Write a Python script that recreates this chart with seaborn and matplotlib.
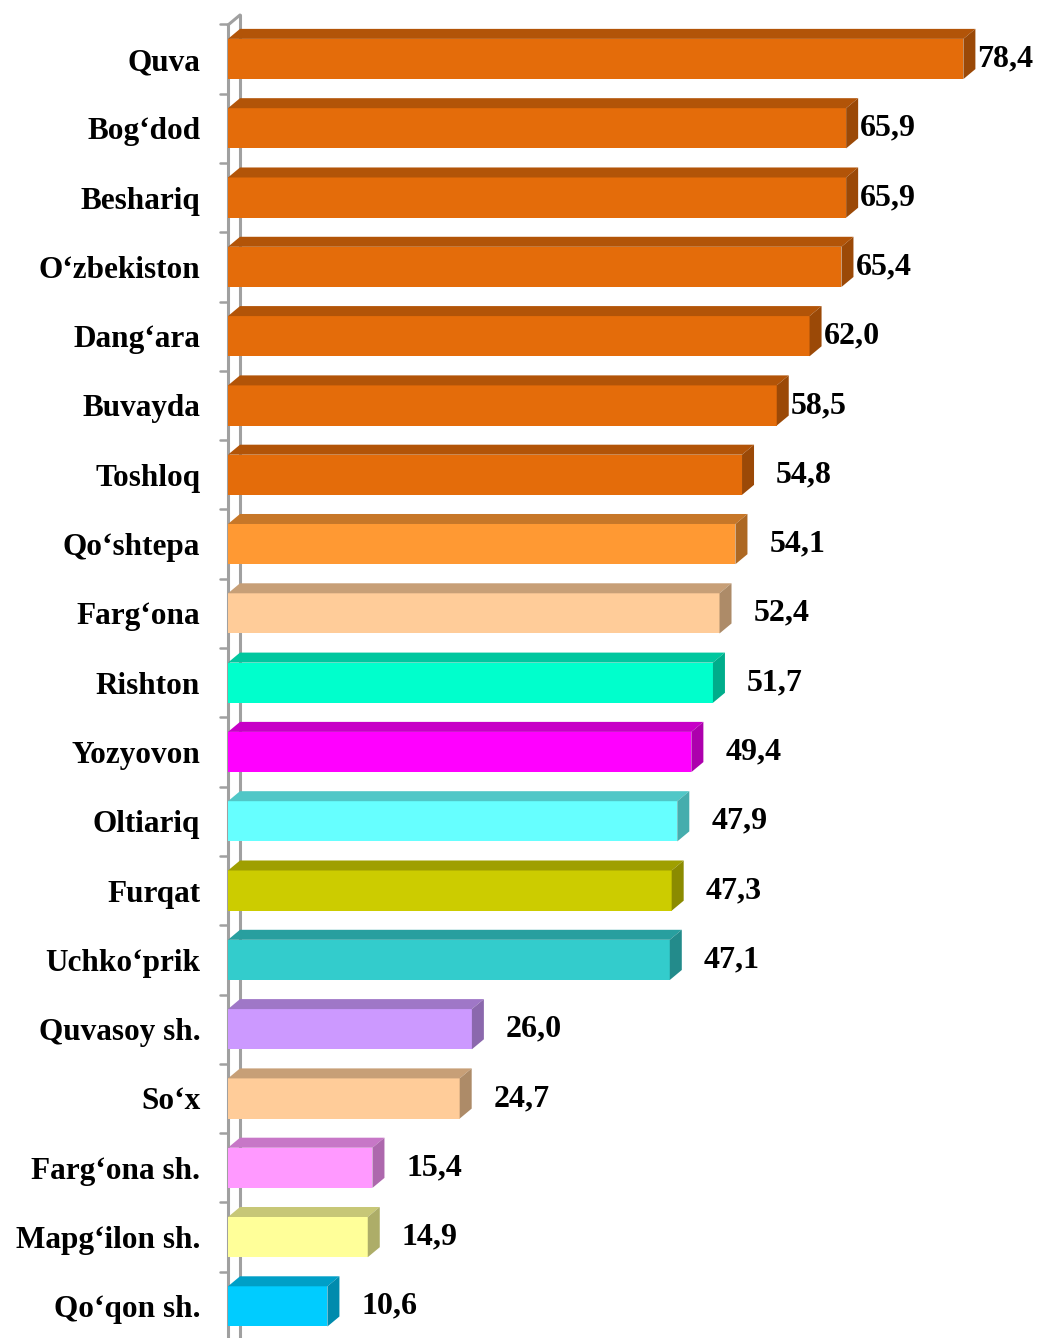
import numpy as np
import pandas as pd
import matplotlib
matplotlib.use('Agg')
import matplotlib.pyplot as plt
import seaborn as sns
from matplotlib.patches import Polygon
from matplotlib.lines import Line2D
from matplotlib.colors import to_rgb

# --- data ---
districts = ['Quva', 'Bog\u2018dod', 'Beshariq', 'O\u2018zbekiston', 'Dang\u2018ara',
             'Buvayda', 'Toshloq', 'Qo\u2018shtepa', 'Farg\u2018ona', 'Rishton',
             'Yozyovon', 'Oltiariq', 'Furqat', 'Uchko\u2018prik', 'Quvasoy sh.',
             'So\u2018x', 'Farg\u2018ona sh.', 'Mapg\u2018ilon sh.', 'Qo\u2018qon sh.']
values = [78.4, 65.9, 65.9, 65.4, 62.0, 58.5, 54.8, 54.1, 52.4, 51.7,
          49.4, 47.9, 47.3, 47.1, 26.0, 24.7, 15.4, 14.9, 10.6]
value_labels = ['78,4', '65,9', '65,9', '65,4', '62,0', '58,5', '54,8', '54,1', '52,4',
                '51,7', '49,4', '47,9', '47,3', '47,1', '26,0', '24,7', '15,4', '14,9', '10,6']
bar_colors = ['#E46C0A'] * 7 + ['#FF9933', '#FFCC99', '#00FFCC', '#FF00FF', '#66FFFF',
                                '#CCCC00', '#33CCCC', '#CC99FF', '#FFCC99', '#FF99FF',
                                '#FFFF99', '#00CCFF']

df = pd.DataFrame({'district': districts, 'value': values})

sns.set_style('white')
plt.rcParams['font.family'] = ['Liberation Serif', 'DejaVu Serif']
plt.rcParams['font.weight'] = 'bold'

fig = plt.figure(figsize=(10.38, 13.38), dpi=100)
ax = fig.add_axes([228 / 1038, 0.0, 86 * 9.38 / 1038, 1.0])

sns.barplot(data=df, y='district', x='value', hue='district', palette=bar_colors,
            order=districts, hue_order=districts, orient='h', width=0.58,
            saturation=1, legend=False, ax=ax, linewidth=0)

ax.set_xlim(0, 86)
ax.set_ylim(18.456, -0.851)

# 3D depth in data units (12 px right, 10 px up)
dx = 12 / 9.38
dy = 10 / 69.3

def shade(c, f):
    r, g, b = to_rgb(c)
    return (r * f, g * f, b * f)

for p in list(ax.patches):
    x0, y0 = p.get_x(), p.get_y()
    w, h = p.get_width(), p.get_height()
    idx = int(round(y0 + h / 2))
    col = bar_colors[idx]
    top = Polygon([(x0, y0), (x0 + w, y0), (x0 + w + dx, y0 - dy), (x0 + dx, y0 - dy)],
                  closed=True, facecolor=shade(col, 0.78), edgecolor='none', zorder=p.get_zorder())
    side = Polygon([(x0 + w, y0), (x0 + w + dx, y0 - dy), (x0 + w + dx, y0 + h - dy), (x0 + w, y0 + h)],
                   closed=True, facecolor=shade(col, 0.68), edgecolor='none', zorder=p.get_zorder())
    ax.add_patch(top)
    ax.add_patch(side)
    gap = 2 / 9.38 if idx < 6 else 22 / 9.38
    ax.text(x0 + w + dx + gap, y0 + h / 2, value_labels[idx],
            ha='left', va='center', fontsize=23, fontweight='bold', color='black')

# wall (axis) drawn as outline behind the bars
for s in ax.spines.values():
    s.set_visible(False)
wall = '#A0A0A0'
ax.add_line(Line2D([0, 0], [18.6, -0.49], color=wall, lw=2.2, clip_on=False, zorder=0.5))
ax.add_line(Line2D([dx, dx], [18.6, -0.49 - dy], color=wall, lw=2.2, clip_on=False, zorder=0.5))
ax.add_line(Line2D([0, dx], [-0.49, -0.49 - dy], color=wall, lw=2.2, clip_on=False, zorder=0.5))
for b in np.arange(-0.5, 18.6, 1.0):
    ax.add_line(Line2D([-8 / 9.38, 0], [b, b], color=wall, lw=1.8, clip_on=False, zorder=0.5))

ax.set_xticks([])
ax.set_ylabel('')
ax.set_xlabel('')
ax.tick_params(axis='y', length=0, pad=20)
for t in ax.get_yticklabels():
    t.set_fontsize(22.5)
    t.set_fontweight('bold')
    t.set_color('black')

fig.savefig('out.png', dpi=100)
